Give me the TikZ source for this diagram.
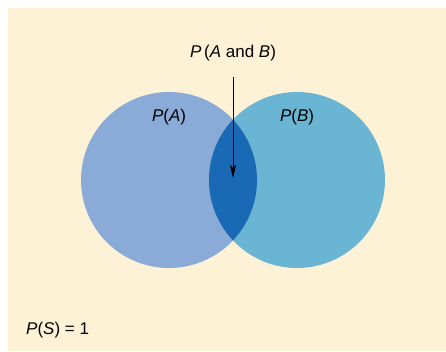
\documentclass[tikz,border=0pt]{standalone}
\usepackage{fontspec}
\setmainfont{Liberation Sans}
\usetikzlibrary{positioning,arrows.meta}
\definecolor{setA}{HTML}{8AAAD8}
\definecolor{setB}{HTML}{6AB4D4}
\definecolor{both}{HTML}{1A69B4}
\definecolor{space}{HTML}{FDF2D6}

\begin{document}
\begin{tikzpicture}[
  x=1pt, y=-1pt,
  lbl/.style={font=\fontsize{17}{20}\selectfont, inner sep=0pt},
  setcirc/.style={circle, minimum size=176pt, inner sep=0pt}
]
  \useasboundingbox (0,0) rectangle (446,352);
  % sample space
  \fill[space] (8,8) rectangle (446,351);
  % the two events
  \node[setcirc, fill=setA] (A) at (169,180) {};
  \node[setcirc, fill=setB] (B) at (297,180) {};
  \begin{scope}
    \clip (A.center) circle (88pt);
    \fill[both] (B.center) circle (88pt);
  \end{scope}
  % labels
  \node[lbl] (ab) at (233,53) {\textit{P}\,(\textit{A} and \textit{B})};
  \node[lbl] (pa) at (169,117) {\textit{P}(\textit{A})};
  \node[lbl] (pb) at (297,117) {\textit{P}(\textit{B})};
  \node[lbl, anchor=west] (ps) at (26,330) {\textit{P}(\textit{S}) = 1};
  \coordinate (start) at (233,77);
  \coordinate (tip) at (233,178);
  \draw[-{Stealth[length=13pt, width=6pt, inset=3pt]}, line width=0.9pt] (start) -- (tip);
\end{tikzpicture}
\end{document}
